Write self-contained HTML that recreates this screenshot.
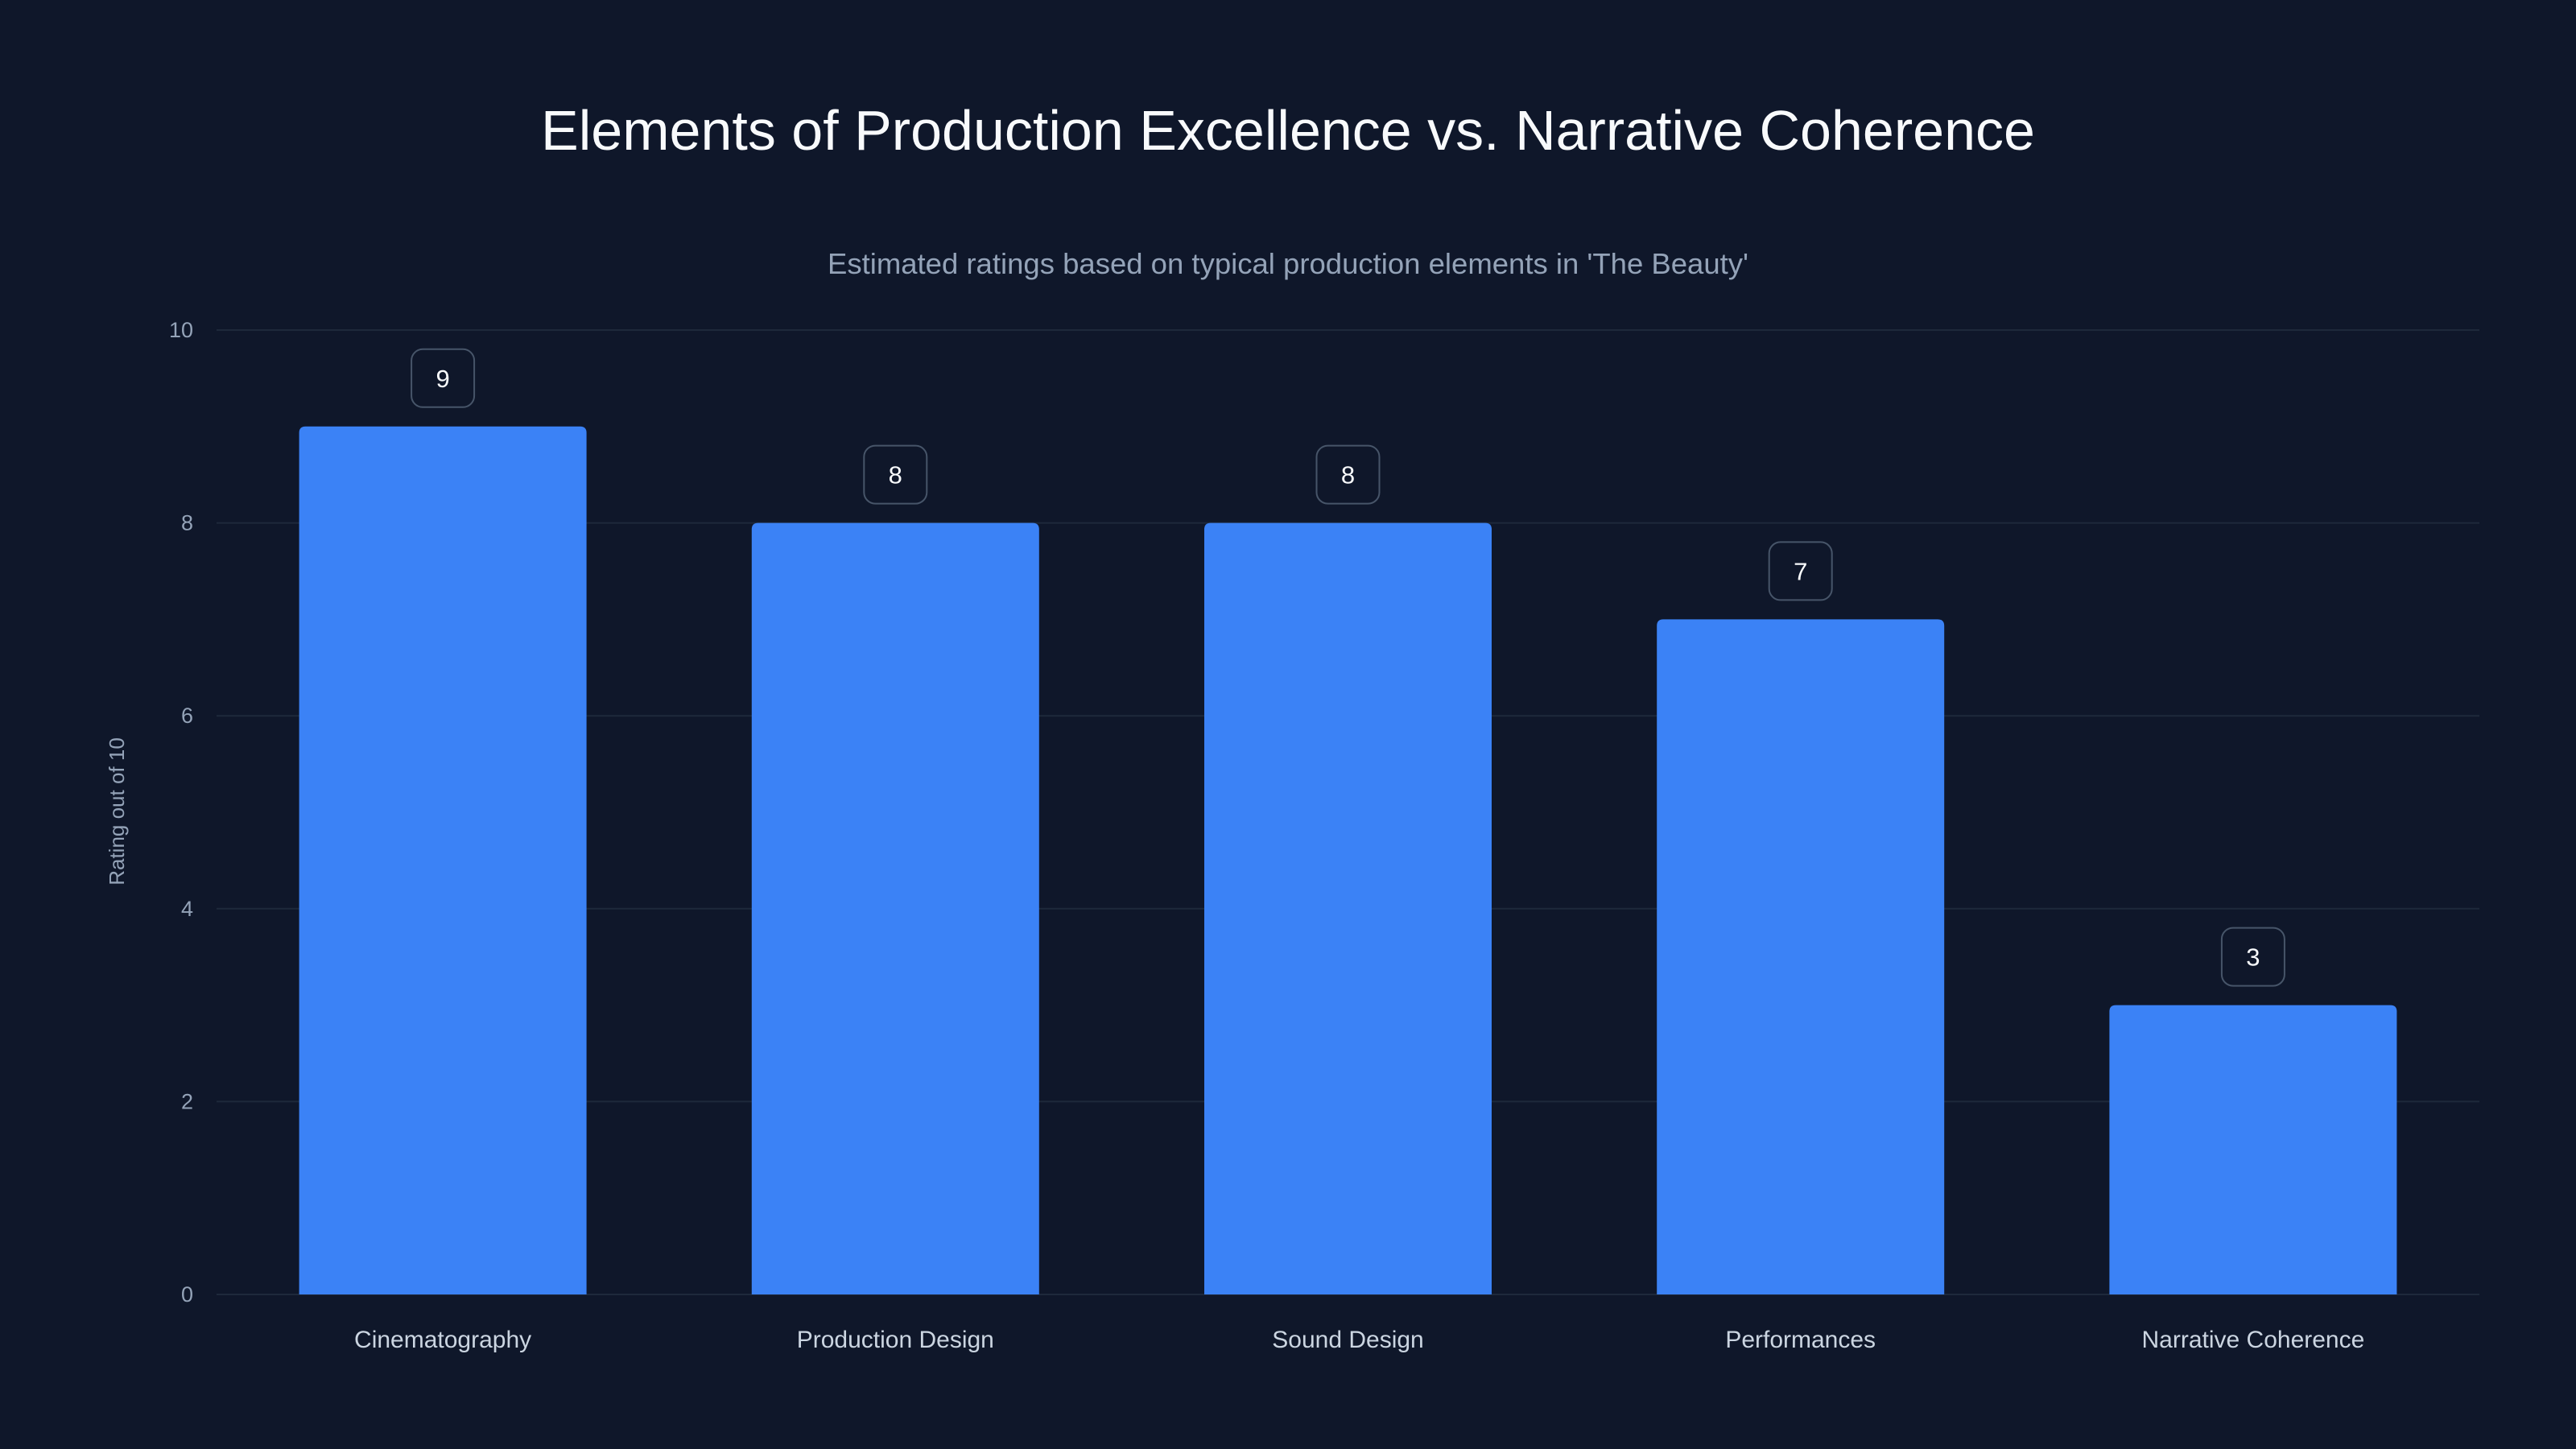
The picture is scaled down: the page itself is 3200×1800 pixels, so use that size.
<!DOCTYPE html>
<html><head><meta charset="utf-8"><style>
html,body{margin:0;padding:0;background:#0f172a;}
svg{display:block;}
text{font-family:"Liberation Sans",sans-serif;}
</style></head><body>
<svg id="chart" width="3200" height="1800" viewBox="0 0 3200 1800">
<rect width="3200" height="1800" fill="#0f172a"/>
<text x="1600" y="186" text-anchor="middle" font-size="70" fill="#f8fafc">Elements of Production Excellence vs. Narrative Coherence</text>
<text x="1600" y="340" text-anchor="middle" font-size="36.5" fill="#94a3b8">Estimated ratings based on typical production elements in 'The Beauty'</text>
<text transform="translate(154,1008) rotate(-90)" text-anchor="middle" font-size="26" fill="#94a3b8">Rating out of 10</text>
<g id="grid"></g><g id="bars"></g><g id="labels"></g>
</svg>
<script>
const categories=["Cinematography","Production Design","Sound Design","Performances","Narrative Coherence"];
const values=[9,8,8,7,3];
const yTicks=[0,2,4,6,8,10];
const NS="http://www.w3.org/2000/svg";
const L=269,R=3080,T=410,B=1608,yMax=10;
const y=v=>B-(v/yMax)*(B-T);
const band=(R-L)/categories.length;
const xc=i=>L+band*(i+0.5);
const bw=band*0.635;
function mk(tag,attrs,parent){const e=document.createElementNS(NS,tag);for(const k in attrs)e.setAttribute(k,attrs[k]);parent.appendChild(e);return e;}
const grid=document.getElementById('grid'),bars=document.getElementById('bars'),labels=document.getElementById('labels');
yTicks.forEach(t=>{
 const l=mk('line',{x1:L,x2:R,y1:y(t),y2:y(t),stroke:'#1e293b','stroke-width':2},grid);
 
 
 const tx=mk('text',{x:240,y:y(t)+9,'text-anchor':'end','font-size':27,fill:'#94a3b8'},grid);
 tx.textContent=t;
 
 
});
categories.forEach((c,i)=>{
 const v=values[i],top=y(v),x=xc(i);
 const p=mk('path',{d:`M${x-bw/2},${B} V${top+8} Q${x-bw/2},${top} ${x-bw/2+8},${top} H${x+bw/2-8} Q${x+bw/2},${top} ${x+bw/2},${top+8} V${B} Z`,fill:'#3b82f6'},bars);
 
 
 const r=mk('rect',{x:x-39,y:top-96,width:78,height:72,rx:14,fill:'#0f172a',stroke:'#475569','stroke-width':2},labels);
 
 
 const vt=mk('text',{x:x,y:top-49,'text-anchor':'middle','font-size':31,fill:'#f8fafc'},labels);
 vt.textContent=v;
 
 
 const ct=mk('text',{x:x,y:1674,'text-anchor':'middle','font-size':30,fill:'#cbd5e1'},labels);
 ct.textContent=c;
 
 
});
</script>
</body></html>
